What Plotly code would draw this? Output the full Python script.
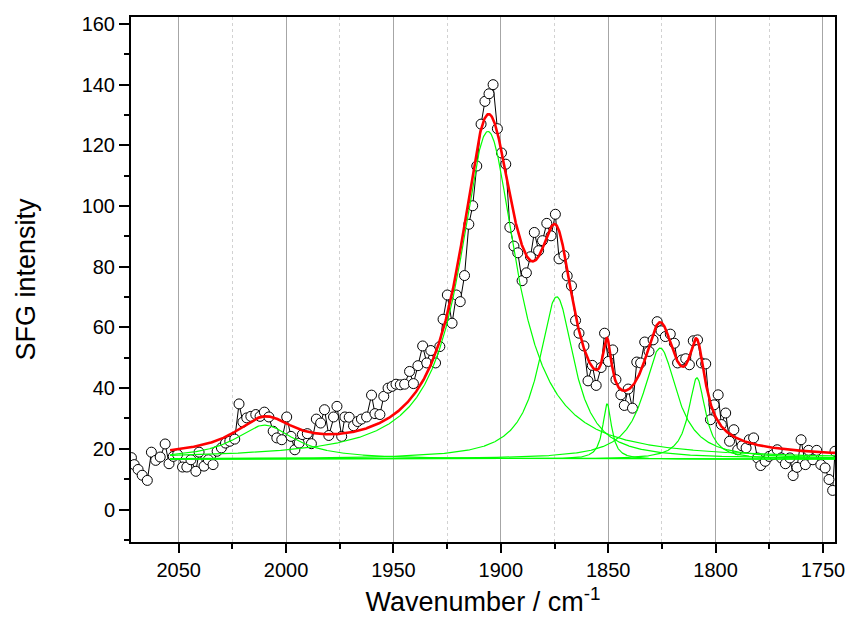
import numpy as np
import plotly.graph_objects as go

wavenumber = [
    2072.0, 2070.7, 2068.9, 2067.0, 2064.6, 2062.7, 2060.7, 2058.6, 2056.3, 2054.5,
    2052.5, 2050.5, 2048.2, 2046.2, 2044.3, 2042.0, 2040.5, 2038.2, 2036.2, 2034.0,
    2032.1, 2030.1, 2028.2, 2026.2, 2023.9, 2021.9, 2020.1, 2018.3, 2016.4, 2014.1,
    2012.1, 2010.1, 2008.0, 2006.0, 2004.3, 2002.0, 1999.7, 1997.7, 1995.9, 1993.9,
    1992.4, 1990.1, 1988.2, 1985.9, 1983.9, 1982.1, 1980.1, 1977.9, 1976.3, 1974.1,
    1972.6, 1970.6, 1968.6, 1966.7, 1964.9, 1962.5, 1960.2, 1958.6, 1956.3, 1954.5,
    1952.5, 1950.6, 1948.8, 1946.8, 1944.8, 1942.5, 1940.7, 1938.6, 1936.4, 1934.5,
    1932.6, 1930.4, 1928.4, 1926.9, 1924.9, 1922.7, 1920.7, 1918.9, 1916.9, 1914.9,
    1913.1, 1911.2, 1909.2, 1907.4, 1905.5, 1903.6, 1901.6, 1899.7, 1897.7, 1895.8,
    1893.9, 1892.1, 1890.1, 1888.1, 1886.2, 1884.4, 1882.4, 1880.6, 1878.6, 1876.6,
    1874.6, 1872.9, 1870.6, 1869.1, 1867.1, 1865.2, 1863.6, 1861.3, 1859.4, 1857.4,
    1855.6, 1853.3, 1851.7, 1849.9, 1847.9, 1846.4, 1844.1, 1842.5, 1840.7, 1838.7,
    1836.7, 1834.9, 1833.0, 1831.0, 1829.1, 1827.2, 1825.4, 1823.4, 1821.1, 1819.2,
    1817.7, 1815.7, 1813.9, 1812.2, 1810.4, 1808.4, 1806.6, 1804.6, 1802.4, 1800.7,
    1798.8, 1797.3, 1795.3, 1793.5, 1791.5, 1789.7, 1787.7, 1785.8, 1784.3, 1782.3,
    1780.5, 1779.0, 1776.9, 1775.1, 1773.2, 1771.3, 1769.4, 1767.5, 1765.4, 1763.9,
    1762.1, 1760.2, 1758.2, 1756.7, 1754.7, 1752.9, 1751.0, 1749.0, 1747.2, 1745.5,
    1744.4,
]
intensity = [
    17.1, 14.8, 13.2, 11.3, 9.6, 18.9, 16.2, 17.3, 21.6, 15.1,
    17.5, 18.1, 14.0, 14.0, 16.4, 12.6, 18.9, 14.3, 16.4, 14.8,
    19.2, 20.3, 21.9, 22.5, 23.2, 34.8, 28.8, 30.2, 30.7, 31.3,
    30.7, 32.1, 30.5, 25.8, 23.6, 23.0, 30.5, 24.1, 19.7, 21.9,
    24.7, 25.0, 21.7, 29.8, 28.5, 32.9, 24.4, 30.5, 34.0, 24.1,
    30.5, 30.4, 27.6, 29.0, 29.8, 30.5, 37.7, 31.6, 31.3, 37.3,
    40.0, 40.6, 41.3, 41.1, 41.3, 45.5, 41.5, 47.4, 53.9, 48.3,
    52.4, 48.3, 53.7, 62.7, 70.7, 61.4, 70.7, 68.5, 77.1, 94.0,
    100.1, 113.2, 127.0, 134.5, 137.0, 140.0, 125.5, 117.5, 113.8, 93.0,
    86.8, 84.6, 75.4, 78.0, 83.3, 91.3, 85.3, 88.6, 94.3, 90.2,
    97.3, 82.6, 83.7, 77.0, 73.7, 62.3, 58.1, 53.9, 42.4, 47.5,
    40.9, 46.8, 58.1, 48.8, 52.6, 42.8, 37.8, 34.3, 39.7, 33.4,
    48.6, 48.3, 55.2, 52.1, 55.9, 61.9, 58.9, 57.0, 57.8, 54.8,
    48.3, 49.3, 49.7, 47.7, 55.6, 55.9, 48.3, 48.0, 29.6, 34.5,
    37.8, 28.0, 31.8, 22.5, 26.3, 19.7, 21.0, 20.3, 23.0, 23.6,
    17.0, 14.5, 15.9, 17.5, 18.1, 19.7, 17.0, 15.1, 17.0, 11.2,
    13.9, 23.0, 14.8, 19.5, 16.4, 19.5, 14.8, 13.7, 9.9, 6.3,
    19.2,
]

# ---- Lorentzian fit parameters ----
fit_baseline = 16.6
peak_centers = [2010.0, 1906.0, 1874.0, 1850.5, 1825.8, 1808.7]
peak_heights = [11.2, 108.0, 53.5, 18.2, 36.6, 26.8]
peak_hwhm = [17.0, 16.0, 10.0, 2.5, 9.5, 4.7]
fit_start, fit_end = 2054.0, 1744.4

x_fit = np.linspace(fit_start, fit_end, 1500)
components = [
    h / (1.0 + ((x_fit - c) / g) ** 2)
    for c, h, g in zip(peak_centers, peak_heights, peak_hwhm)
]
total = fit_baseline + np.sum(components, axis=0)

fig = go.Figure()

fig.add_trace(go.Scatter(
    x=wavenumber, y=intensity, mode="lines+markers",
    line=dict(color="black", width=1),
    marker=dict(symbol="circle", size=10, color="white",
                line=dict(color="black", width=1)),
    showlegend=False,
))

for comp in components:
    fig.add_trace(go.Scatter(
        x=x_fit, y=fit_baseline + comp, mode="lines",
        line=dict(color="#00ff00", width=1.2), showlegend=False,
    ))

fig.add_trace(go.Scatter(
    x=x_fit, y=total, mode="lines",
    line=dict(color="#ff0000", width=2.6), showlegend=False,
))

font_family = "Arial, Liberation Sans, sans-serif"

fig.update_layout(
    width=857, height=624,
    margin=dict(l=131, r=14, t=17, b=82),
    paper_bgcolor="white", plot_bgcolor="white",
    font=dict(family=font_family, color="black"),
)

fig.update_xaxes(
    range=[2072.2, 1744.4],
    dtick=50,
    showline=True, linecolor="black", linewidth=2, mirror=True,
    ticks="outside", ticklen=9, tickwidth=2, tickcolor="black",
    tickfont=dict(size=20),
    showgrid=True, gridcolor="#a6a6a6", gridwidth=1.2,
    zeroline=False,
    minor=dict(dtick=25, ticks="outside", ticklen=5, tickwidth=2,
               tickcolor="black", showgrid=True, gridcolor="#d2d2d2",
               griddash="dot", gridwidth=1),
    title=dict(text="Wavenumber / cm<sup>-1</sup>", font=dict(size=27), standoff=12),
)

fig.update_yaxes(
    range=[-10.7, 162.3],
    dtick=20,
    showline=True, linecolor="black", linewidth=2, mirror=True,
    ticks="outside", ticklen=10, tickwidth=2, tickcolor="black",
    tickfont=dict(size=20),
    showgrid=False, zeroline=False,
    minor=dict(dtick=10, ticks="outside", ticklen=5, tickwidth=2,
               tickcolor="black", showgrid=False),
    title=dict(text="SFG intensity", font=dict(size=27), standoff=38),
)

fig.write_html("out.html")
